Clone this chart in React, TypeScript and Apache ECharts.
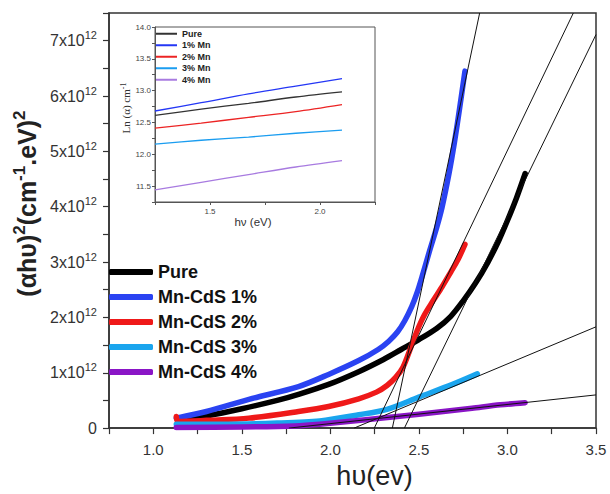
import React, { useEffect, useRef } from 'react';
import * as echarts from 'echarts';

const SANS = "Arial, 'Liberation Sans', Helvetica, sans-serif";
const SERIF = "'Times New Roman', 'Liberation Serif', serif";
const E12 = 1e12;

// Main panel: (αhυ)² versus hυ, values in units of 10^12
const seriesNames = ['Pure', 'Mn-CdS 1%', 'Mn-CdS 2%', 'Mn-CdS 3%', 'Mn-CdS 4%'];
const seriesColors = ['#000000', '#2a43f2', '#ef1919', '#1aa5ee', '#8a15c6'];

const pureData = [
  [1.15, 0.15], [1.3, 0.22], [1.5, 0.35], [1.7, 0.5], [1.82, 0.61], [1.99, 0.79],
  [2.16, 1.02], [2.3, 1.24], [2.4, 1.42], [2.5, 1.6], [2.6, 1.8], [2.68, 2.02],
  [2.75, 2.3], [2.82, 2.62], [2.89, 3.0], [2.95, 3.38], [3.0, 3.75], [3.05, 4.15], [3.1, 4.6],
];
const mn1Data = [
  [1.13, 0.18], [1.3, 0.3], [1.54, 0.52], [1.82, 0.75], [1.99, 0.97], [2.16, 1.22],
  [2.27, 1.42], [2.33, 1.57], [2.38, 1.74], [2.42, 1.94], [2.46, 2.2], [2.49, 2.45],
  [2.52, 2.76], [2.56, 3.2], [2.6, 3.62], [2.63, 3.98], [2.67, 4.6], [2.7, 5.15],
  [2.73, 5.78], [2.76, 6.45],
];
const mn2Data = [
  [1.13, 0.21], [1.14, 0.12], [1.3, 0.14], [1.54, 0.18], [1.82, 0.3], [1.99, 0.39],
  [2.16, 0.53], [2.26, 0.65], [2.32, 0.77], [2.37, 0.92], [2.41, 1.1], [2.45, 1.42],
  [2.49, 1.76], [2.53, 2.04], [2.58, 2.3], [2.63, 2.55], [2.68, 2.82], [2.72, 3.04], [2.76, 3.32],
];
const mn3Data = [
  [1.13, 0.07], [1.4, 0.07], [1.7, 0.09], [1.94, 0.13], [2.16, 0.24], [2.32, 0.34],
  [2.5, 0.56], [2.69, 0.79], [2.83, 0.98],
];
const mn4Data = [
  [1.13, 0.01], [1.5, 0.02], [1.8, 0.04], [1.94, 0.07], [2.2, 0.15], [2.5, 0.25],
  [2.8, 0.36], [2.96, 0.42], [3.1, 0.46],
];

// Linear extrapolations to the energy axis (band-gap estimates)
const tangentLines = [
  [[2.418, 0], [3.5, 7.11]],
  [[2.35, 0], [2.843, 7.5]],
  [[2.248, 0], [3.372, 7.5]],
  [[2.134, 0], [3.5, 1.83]],
  [[1.766, 0], [3.5, 0.6]],
];

// Inset: Ln(α) versus hν
const insetNames = ['Pure', '1% Mn', '2% Mn', '3% Mn', '4% Mn'];
const insetColors = ['#333333', '#2437f5', '#ec2424', '#1b9df0', '#a87be0'];
const insetX = [1.25, 1.46, 1.675, 1.89, 2.1];
const insetPure = [12.61, 12.71, 12.8, 12.9, 12.98];
const insetMn1 = [12.68, 12.81, 12.95, 13.07, 13.19];
const insetMn2 = [12.41, 12.49, 12.58, 12.67, 12.78];
const insetMn3 = [12.16, 12.22, 12.27, 12.33, 12.38];
const insetMn4 = [11.44, 11.56, 11.68, 11.8, 11.9];

const mainSets = [pureData, mn1Data, mn2Data, mn3Data, mn4Data];
const insetSets = [insetPure, insetMn1, insetMn2, insetMn3, insetMn4];

const isMultiple = (v: number, step: number) => Math.abs(v / step - Math.round(v / step)) < 1e-6;

export default function App() {
  const ref = useRef<HTMLDivElement>(null);

  useEffect(() => {
    if (!ref.current) return;
    const chart = echarts.init(ref.current, undefined, { renderer: 'svg' });

    const mainSeries = mainSets.map((set, i) => ({
      name: seriesNames[i],
      type: 'line',
      xAxisIndex: 0,
      yAxisIndex: 0,
      data: set.map(([x, y]) => [x, y * E12]),
      showSymbol: false,
      smooth: 0.3,
      color: seriesColors[i],
      lineStyle: { width: 5.5, color: seriesColors[i], cap: 'round', join: 'round' },
      z: 2,
      silent: true,
    }));

    const tangentSeries = tangentLines.map((pts, i) => ({
      name: `tangent-${i}`,
      type: 'line',
      xAxisIndex: 0,
      yAxisIndex: 0,
      data: pts.map(([x, y]) => [x, y * E12]),
      showSymbol: false,
      lineStyle: { width: 1, color: '#111' },
      z: 3,
      silent: true,
    }));

    const insetSeries = insetSets.map((vals, i) => ({
      name: insetNames[i],
      type: 'line',
      xAxisIndex: 1,
      yAxisIndex: 1,
      data: vals.map((v, k) => [insetX[k], v]),
      showSymbol: false,
      smooth: 0.3,
      color: insetColors[i],
      lineStyle: { width: 1.3, color: insetColors[i] },
      z: 5,
      silent: true,
    }));

    chart.setOption({
      animation: false,
      backgroundColor: '#ffffff',
      textStyle: { fontFamily: SANS },
      grid: [
        { left: 109, top: 13, right: 14, bottom: 62, show: true, borderColor: '#333', borderWidth: 1.5, backgroundColor: 'transparent' },
        { left: 155, top: 27, width: 220, height: 175, show: true, borderColor: '#555', borderWidth: 1, backgroundColor: '#ffffff', z: 4 },
      ],
      xAxis: [
        {
          type: 'value', gridIndex: 0, min: 0.75, max: 3.5, interval: 0.25,
          name: 'hυ(ev)', nameLocation: 'middle', nameGap: 32,
          nameTextStyle: { fontSize: 27, color: '#222', fontFamily: SANS, padding: [0, 0, 0, 44] },
          axisLine: { lineStyle: { color: '#333', width: 1.5 } },
          axisTick: { length: 6, lineStyle: { color: '#333', width: 1.2 } },
          axisLabel: {
            fontSize: 15, color: '#333', margin: 14, fontFamily: SANS,
            formatter: (v: number) => (isMultiple(v, 0.5) ? v.toFixed(1) : ''),
          },
          splitLine: { show: false },
        },
        {
          type: 'value', gridIndex: 1, min: 1.25, max: 2.25, interval: 0.25,
          name: 'hν (eV)', nameLocation: 'middle', nameGap: 13,
          nameTextStyle: { fontSize: 11.5, color: '#333', fontFamily: SANS, padding: [0, 24, 0, 0] },
          axisLine: { lineStyle: { color: '#555', width: 1 } },
          axisTick: { length: 3, lineStyle: { color: '#555' } },
          axisLabel: {
            fontSize: 8, color: '#444', margin: 5, fontFamily: SANS,
            formatter: (v: number) => (isMultiple(v, 0.5) ? v.toFixed(1) : ''),
          },
          splitLine: { show: false },
          z: 5,
        },
      ],
      yAxis: [
        {
          type: 'value', gridIndex: 0, min: 0, max: 7.5 * E12, interval: 0.5 * E12,
          name: '{a|(αhυ)}{s|2}{a|(cm}{s|-1}{a|.eV)}{s|2}',
          nameLocation: 'middle', nameGap: 56, nameRotate: 90,
          nameTextStyle: {
            padding: [0, 0, 0, 34],
            rich: {
              a: { fontSize: 25, fontWeight: 'bold', color: '#222', fontFamily: SANS, lineHeight: 32 },
              s: { fontSize: 17, fontWeight: 'bold', color: '#222', fontFamily: SANS, lineHeight: 17, verticalAlign: 'top' },
            },
          },
          axisLine: { show: true, lineStyle: { color: '#333', width: 1.5 } },
          axisTick: { show: true, length: 6, lineStyle: { color: '#333', width: 1.2 } },
          axisLabel: {
            margin: 12,
            formatter: (v: number) => {
              const n = v / E12;
              if (!isMultiple(n, 1)) return '';
              if (Math.round(n) === 0) return '{a|0}';
              return `{a|${Math.round(n)}x10}{s|12}`;
            },
            rich: {
              a: { fontSize: 16, color: '#333', fontFamily: SANS, lineHeight: 22 },
              s: { fontSize: 11, color: '#333', fontFamily: SANS, lineHeight: 11, verticalAlign: 'top' },
            },
          },
          splitLine: { show: false },
        },
        {
          type: 'value', gridIndex: 1, min: 11.25, max: 14, interval: 0.25,
          name: '{a|Ln (α) cm}{s|-1}',
          nameLocation: 'middle', nameGap: 20, nameRotate: 90,
          nameTextStyle: {
            padding: [0, 0, 0, 13],
            rich: {
              a: { fontSize: 11, color: '#333', fontFamily: SERIF, lineHeight: 14 },
              s: { fontSize: 8, color: '#333', fontFamily: SERIF, lineHeight: 8, verticalAlign: 'top' },
            },
          },
          axisLine: { show: true, lineStyle: { color: '#555', width: 1 } },
          axisTick: { show: true, length: 3, lineStyle: { color: '#555' } },
          axisLabel: {
            fontSize: 8, color: '#444', margin: 4, fontFamily: SANS,
            formatter: (v: number) => (isMultiple(v, 0.5) ? v.toFixed(1) : ''),
          },
          splitLine: { show: false },
          z: 5,
        },
      ],
      legend: [
        {
          data: seriesNames.map((n, i) => ({ name: n, itemStyle: { color: seriesColors[i] } })),
          orient: 'vertical', left: 109, top: 262, padding: 0,
          icon: 'roundRect', itemWidth: 44, itemHeight: 6, itemGap: 5,
          selectedMode: false,
          textStyle: { fontSize: 18, fontWeight: 'bold', color: '#111', fontFamily: SANS, lineHeight: 20 },
        },
        {
          data: insetNames.map((n, i) => ({ name: n, itemStyle: { color: insetColors[i] } })),
          orient: 'vertical', left: 156, top: 28, padding: 0,
          icon: 'rect', itemWidth: 21, itemHeight: 2, itemGap: 0,
          selectedMode: false, z: 6,
          textStyle: { fontSize: 9, fontWeight: 'bold', color: '#222', fontFamily: SANS, lineHeight: 11.5 },
        },
      ],
      series: [...mainSeries, ...tangentSeries, ...insetSeries],
    });

    return () => chart.dispose();
  }, []);

  return (
    <div
      ref={ref}
      style={{ position: 'fixed', left: 0, top: 0, width: 610, height: 494, background: '#fff' }}
    />
  );
}
